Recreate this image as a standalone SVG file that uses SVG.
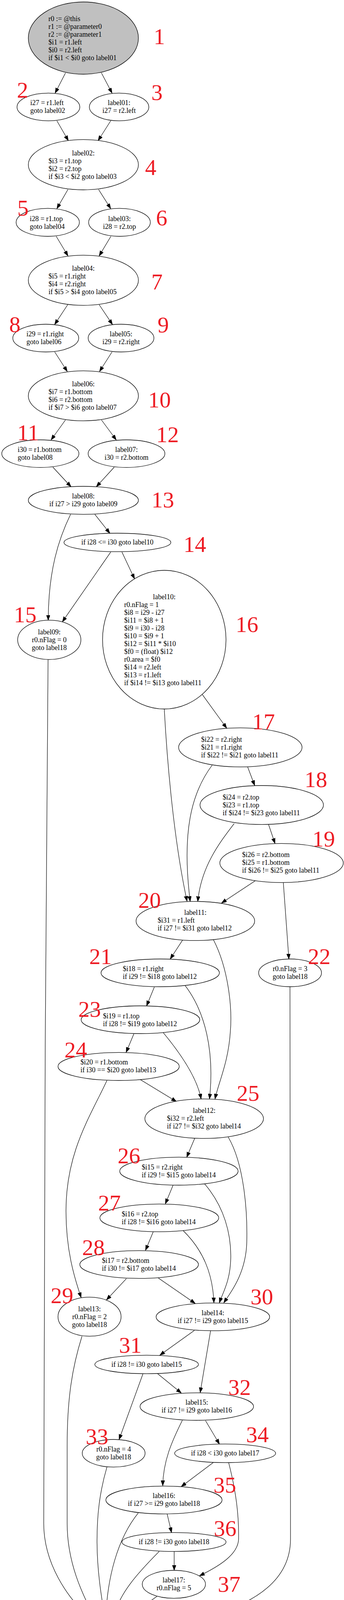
<svg xmlns="http://www.w3.org/2000/svg" width="881" height="4247" viewBox="0 0 881 4247">
<style>
.bg{fill:#ffffff}
.nd{fill:#ffffff;stroke:#000;stroke-width:1.3}
.t{font-family:"Liberation Serif","Times New Roman",serif;font-size:18px;fill:#000}
.c{text-anchor:middle}
.num{font-family:"Liberation Serif","Times New Roman",serif;font-size:58px;fill:#ed1c24;text-anchor:middle}
.e{fill:none;stroke:#000;stroke-width:1.2;marker-end:url(#ah)}
</style>
<defs>
<marker id="ah" markerUnits="userSpaceOnUse" markerWidth="14" markerHeight="10" refX="13" refY="4.7" orient="auto">
<path d="M0,0 L13,4.7 L0,9.4 z" fill="#000" stroke="#000" stroke-width="1"/>
</marker>
</defs>
<rect class="bg" x="0" y="0" width="881" height="4247"/>
<g id="edges">
<path class="e" d="M167.7,186.7 L141.2,238.3"/>
<path class="e" d="M259.8,186.7 L286.9,238.3"/>
<path class="e" d="M145.7,309.3 L175,360"/>
<path class="e" d="M283.5,309.3 L251.3,360"/>
<path class="e" d="M174,485 L145.7,534"/>
<path class="e" d="M252.4,485 L283.5,534"/>
<path class="e" d="M144,605 L174,655"/>
<path class="e" d="M284,605 L254,655"/>
<path class="e" d="M173.4,780 L140,830.7"/>
<path class="e" d="M254,780 L288,830.7"/>
<path class="e" d="M140,900.7 L172.2,950.7"/>
<path class="e" d="M287,900.7 L255,950.7"/>
<path class="e" d="M167.7,1075 L131,1126"/>
<path class="e" d="M259.8,1075 L297.6,1126"/>
<path class="e" d="M135.5,1196 L181.8,1246"/>
<path class="e" d="M292.5,1196 L246.8,1246"/>
<path class="e" d="M180.7,1316.7 C150,1380 124,1460 123.5,1587.7"/>
<path class="e" d="M242.8,1316.7 L281.2,1365"/>
<path class="e" d="M283.5,1413.3 L159.8,1591.7"/>
<path class="e" d="M312.3,1413.3 L344.5,1481.7"/>
<path class="e" d="M123.1,1688.3 C116,2300 112,3500 112,3900 C112,4000 170,4090 236,4148"/>
<path class="e" d="M420.7,1815 C428,1950 445,2150 479,2307"/>
<path class="e" d="M518.4,1778.3 L580.5,1864"/>
<path class="e" d="M634.2,1963.3 L652.2,2010.7"/>
<path class="e" d="M543.2,1959 C490,2030 465,2130 487,2307.5"/>
<path class="e" d="M599.7,2108.3 C560,2160 515,2220 506.5,2307.7"/>
<path class="e" d="M687.8,2110.7 L704.2,2159"/>
<path class="e" d="M653.4,2255 L567.5,2311.7"/>
<path class="e" d="M725.6,2259.3 L739.8,2455"/>
<path class="e" d="M467.6,2406.7 L436,2455"/>
<path class="e" d="M546.6,2405.7 C585,2480 595,2580 590,2640 C585,2720 560,2770 550.6,2813.3"/>
<path class="e" d="M395.3,2526.7 L375.5,2575"/>
<path class="e" d="M474.4,2523.3 C525,2590 550,2690 536.5,2813.3"/>
<path class="e" d="M742.6,2526 L744,3940 C744,4090 560,4150 331.3,4172"/>
<path class="e" d="M342.8,2646.7 L323,2694"/>
<path class="e" d="M417.9,2643.3 C465,2700 505,2760 515,2813.3"/>
<path class="e" d="M359.7,2764 L451.8,2820"/>
<path class="e" d="M273.9,2766 C230,2860 169,2950 169,3100 C169,3200 190,3270 207.8,3321.7"/>
<path class="e" d="M498.6,2914.3 L478.3,2962.3"/>
<path class="e" d="M584.5,2911 C625,2980 634,3100 632,3180 C630,3260 590,3310 573.2,3335"/>
<path class="e" d="M443.3,3034 L423.5,3081.7"/>
<path class="e" d="M524,3030.7 C575,3090 592,3160 591,3220 C590,3280 570,3310 561.9,3335"/>
<path class="e" d="M392.5,3153.3 L372.7,3200.7"/>
<path class="e" d="M468.7,3150 C520,3200 545,3260 547.8,3335"/>
<path class="e" d="M323.6,3273.3 L272.8,3327.7"/>
<path class="e" d="M405.5,3271.7 L499.8,3336.7"/>
<path class="e" d="M210,3420.7 C185,3500 172,3580 172,3700 L172,3900 C172,4000 210,4080 244,4145"/>
<path class="e" d="M498,3405.7 L409.4,3469.3"/>
<path class="e" d="M539.3,3406.7 L512.7,3565"/>
<path class="e" d="M403.8,3516.7 L464.2,3566"/>
<path class="e" d="M366,3517.3 L305,3685"/>
<path class="e" d="M467,3636 C440,3690 418,3740 416.8,3803.3"/>
<path class="e" d="M526.3,3636.7 L561.9,3696.7"/>
<path class="e" d="M273.9,3755.7 C255,3820 248,3880 248.5,3950 C249,4030 262,4100 268.2,4139.5"/>
<path class="e" d="M546,3744.3 L464.2,3805.7"/>
<path class="e" d="M585.6,3744.3 C605,3820 612,3880 611,3940 C610,3980 560,4010 511,4034"/>
<path class="e" d="M428,3875.7 L439.3,3923.3"/>
<path class="e" d="M354,3873.3 C300,3940 275,4040 271,4139.5"/>
<path class="e" d="M446.1,3971.7 L446.1,4020"/>
<path class="e" d="M407.7,3971.7 C350,4030 305,4080 290.8,4140.5"/>
<path class="e" d="M402,4086.7 L313.4,4148.5"/>
</g>
<g id="n1"><ellipse class="nd" style="fill:#c0c0c0" cx="213.5" cy="97.5" rx="141" ry="92.5"/>
<text class="t" x="124" y="53.7">r0 := @this</text><text class="t" x="124" y="73.7">r1 := @parameter0</text><text class="t" x="124" y="93.7">r2 := @parameter1</text><text class="t" x="124" y="113.7">$i1 = r1.left</text><text class="t" x="124" y="133.7">$i0 = r2.left</text><text class="t" x="124" y="153.7">if $i1 &lt; $i0 goto label01</text></g>
<g id="n2"><ellipse class="nd" cx="124" cy="273.8" rx="80.5" ry="35.5"/><text class="t" x="77.4" y="269.3">i27 = r1.left</text><text class="t" x="77.4" y="289.3">goto label02</text></g>
<g id="n3"><ellipse class="nd" cx="305" cy="273.8" rx="76.2" ry="35.5"/><text class="t c" x="305" y="269.3">label01:</text><text class="t c" x="305" y="289.3">i27 = r2.left</text></g>
<g id="n4"><ellipse class="nd" cx="213.5" cy="421.7" rx="141" ry="64.3"/><text class="t c" x="213.5" y="397.7">label02:</text><text class="t" x="124.2" y="417.7">$i3 = r1.top</text><text class="t" x="124.2" y="437.7">$i2 = r2.top</text><text class="t" x="124.2" y="457.7">if $i3 &lt; $i2 goto label03</text></g>
<g id="n5"><ellipse class="nd" cx="122.3" cy="569.2" rx="81" ry="35.8"/><text class="t" x="76.2" y="566">i28 = r1.top</text><text class="t" x="76.2" y="586">goto label04</text></g>
<g id="n6"><ellipse class="nd" cx="306" cy="569.2" rx="79" ry="35.8"/><text class="t c" x="306" y="566">label03:</text><text class="t c" x="306" y="586">i28 = r2.top</text></g>
<g id="n7"><ellipse class="nd" cx="213.5" cy="717.5" rx="141" ry="64.2"/><text class="t c" x="213.5" y="693.3">label04:</text><text class="t" x="124.2" y="713.3">$i5 = r1.right</text><text class="t" x="124.2" y="733.3">$i4 = r2.right</text><text class="t" x="124.2" y="753.3">if $i5 &gt; $i4 goto label05</text></g>
<g id="n8"><ellipse class="nd" cx="117.2" cy="865.5" rx="84.4" ry="35.5"/><text class="t" x="67.8" y="861.3">i29 = r1.right</text><text class="t" x="67.8" y="881.3">goto label06</text></g>
<g id="n9"><ellipse class="nd" cx="310" cy="865.5" rx="84.2" ry="35.5"/><text class="t c" x="310" y="861.3">label05:</text><text class="t c" x="310" y="881.3">i29 = r2.right</text></g>
<g id="n10"><ellipse class="nd" cx="213.5" cy="1013.3" rx="141" ry="64"/><text class="t c" x="213.5" y="989.3">label06:</text><text class="t" x="124.2" y="1009.3">$i7 = r1.bottom</text><text class="t" x="124.2" y="1029.3">$i6 = r2.bottom</text><text class="t" x="124.2" y="1049.3">if $i7 &gt; $i6 goto label07</text></g>
<g id="n11"><ellipse class="nd" cx="103.3" cy="1161.3" rx="98.8" ry="35.3"/><text class="t" x="45.2" y="1157">i30 = r1.bottom</text><text class="t" x="45.2" y="1177">goto label08</text></g>
<g id="n12"><ellipse class="nd" cx="324" cy="1161.3" rx="98.3" ry="35.3"/><text class="t c" x="324" y="1157">label07:</text><text class="t c" x="324" y="1177">i30 = r2.bottom</text></g>
<g id="n13"><ellipse class="nd" cx="213.5" cy="1280.8" rx="141" ry="35.8"/><text class="t c" x="213.5" y="1276">label08:</text><text class="t c" x="213.5" y="1296">if i27 &gt; i29 goto label09</text></g>
<g id="n14"><ellipse class="nd" cx="300.7" cy="1388.7" rx="136.9" ry="23.7"/><text class="t c" x="300.7" y="1394.3">if i28 &lt;= i30 goto label10</text></g>
<g id="n15"><ellipse class="nd" cx="126.2" cy="1638" rx="81" ry="50.3"/><text class="t c" x="126.2" y="1623.7">label09:</text><text class="t c" x="126.2" y="1643.7">r0.nFlag = 0</text><text class="t c" x="126.2" y="1663.7">goto label18</text></g>
<g id="n16"><ellipse class="nd" cx="420.7" cy="1637.5" rx="158.1" ry="177.5"/><text class="t c" x="420.7" y="1533.7">label10:</text>
<text class="t" x="318" y="1553.7">r0.nFlag = 1</text><text class="t" x="318" y="1573.7">$i8 = i29 - i27</text><text class="t" x="318" y="1593.7">$i11 = $i8 + 1</text><text class="t" x="318" y="1613.7">$i9 = i30 - i28</text><text class="t" x="318" y="1633.7">$i10 = $i9 + 1</text><text class="t" x="318" y="1653.7">$i12 = $i11 * $i10</text><text class="t" x="318" y="1673.7">$f0 = (float) $i12</text><text class="t" x="318" y="1693.7">r0.area = $f0</text><text class="t" x="318" y="1713.7">$i14 = r2.left</text><text class="t" x="318" y="1733.7">$i13 = r1.left</text><text class="t" x="318" y="1753.7">if $i14 != $i13 goto label11</text></g>
<g id="n17"><ellipse class="nd" cx="615.5" cy="1913.3" rx="158.1" ry="50"/><text class="t" x="515" y="1899.3">$i22 = r2.right</text><text class="t" x="515" y="1919.3">$i21 = r1.right</text><text class="t" x="515" y="1939.3">if $i22 != $i21 goto label11</text></g>
<g id="n18"><ellipse class="nd" cx="670.3" cy="2060.8" rx="158.1" ry="49.8"/><text class="t" x="570.3" y="2046.7">$i24 = r2.top</text><text class="t" x="570.3" y="2066.7">$i23 = r1.top</text><text class="t" x="570.3" y="2086.7">if $i24 != $i23 goto label11</text></g>
<g id="n19"><ellipse class="nd" cx="721.1" cy="2209.3" rx="158.1" ry="50"/><text class="t" x="620" y="2194.3">$i26 = r2.bottom</text><text class="t" x="620" y="2214.3">$i25 = r1.bottom</text><text class="t" x="620" y="2234.3">if $i26 != $i25 goto label11</text></g>
<g id="n20"><ellipse class="nd" cx="500.3" cy="2357.7" rx="151.9" ry="50"/><text class="t c" x="500.3" y="2341.7">label11:</text><text class="t" x="403.8" y="2361.7">$i31 = r1.left</text><text class="t" x="403.8" y="2381.7">if i27 != $i31 goto label12</text></g>
<g id="n21"><ellipse class="nd" cx="410.3" cy="2490.5" rx="151.6" ry="35.5"/><text class="t" x="314.5" y="2486">$i18 = r1.right</text><text class="t" x="314.5" y="2506">if i29 != $i18 goto label12</text></g>
<g id="n22"><ellipse class="nd" cx="742.9" cy="2490.5" rx="80.5" ry="35.5"/><text class="t c" x="742.9" y="2486">r0.nFlag = 3</text><text class="t c" x="742.9" y="2506">goto label18</text></g>
<g id="n23"><ellipse class="nd" cx="359.7" cy="2610.5" rx="151.9" ry="35.5"/><text class="t" x="263.7" y="2606.7">$i19 = r1.top</text><text class="t" x="263.7" y="2626.7">if i28 != $i19 goto label12</text></g>
<g id="n24"><ellipse class="nd" cx="303.8" cy="2730.2" rx="155.3" ry="35.8"/><text class="t" x="206.1" y="2725.3">$i20 = r1.bottom</text><text class="t" x="206.1" y="2745.3">if i30 == $i20 goto label13</text></g>
<g id="n25"><ellipse class="nd" cx="522.9" cy="2863.8" rx="151.9" ry="50.5"/><text class="t c" x="522.9" y="2849.3">label12:</text><text class="t" x="427.5" y="2869.3">$i32 = r2.left</text><text class="t" x="427.5" y="2889.3">if i27 != $i32 goto label14</text></g>
<g id="n26"><ellipse class="nd" cx="458.2" cy="2998.2" rx="151.6" ry="35.8"/><text class="t" x="363.1" y="2993.7">$i15 = r2.right</text><text class="t" x="363.1" y="3013.7">if i29 != $i15 goto label14</text></g>
<g id="n27"><ellipse class="nd" cx="408" cy="3117.8" rx="152.2" ry="35.5"/><text class="t" x="311.7" y="3113.7">$i16 = r2.top</text><text class="t" x="311.7" y="3133.7">if i28 != $i16 goto label14</text></g>
<g id="n28"><ellipse class="nd" cx="356.3" cy="3237.2" rx="151.9" ry="35.5"/><text class="t" x="260.9" y="3232.7">$i17 = r2.bottom</text><text class="t" x="260.9" y="3252.7">if i30 != $i17 goto label14</text></g>
<g id="n29"><ellipse class="nd" cx="229.3" cy="3370.7" rx="80.8" ry="50"/><text class="t c" x="229.3" y="3356.7">label13:</text><text class="t c" x="229.3" y="3376.7">r0.nFlag = 2</text><text class="t c" x="229.3" y="3396.7">goto label18</text></g>
<g id="n30"><ellipse class="nd" cx="545.2" cy="3371.2" rx="145.4" ry="35.5"/><text class="t c" x="545.2" y="3366.7">label14:</text><text class="t c" x="545.2" y="3386.7">if i27 != i29 goto label15</text></g>
<g id="n31"><ellipse class="nd" cx="375.5" cy="3493" rx="132.7" ry="23.7"/><text class="t c" x="375.5" y="3498.5">if i28 != i30 goto label15</text></g>
<g id="n32"><ellipse class="nd" cx="504" cy="3600.8" rx="145.4" ry="35.2"/><text class="t c" x="504" y="3596">label15:</text><text class="t c" x="504" y="3616">if i27 != i29 goto label16</text></g>
<g id="n33"><ellipse class="nd" cx="291.1" cy="3720.3" rx="80.5" ry="35.3"/><text class="t c" x="291.1" y="3716">r0.nFlag = 4</text><text class="t c" x="291.1" y="3736">goto label18</text></g>
<g id="n34"><ellipse class="nd" cx="576.6" cy="3720.5" rx="129.3" ry="23.8"/><text class="t c" x="576.6" y="3726">if i28 &lt; i30 goto label17</text></g>
<g id="n35"><ellipse class="nd" cx="419.9" cy="3840" rx="148.8" ry="35.7"/><text class="t c" x="419.9" y="3835">label16:</text><text class="t c" x="419.9" y="3855">if i27 &gt;= i29 goto label18</text></g>
<g id="n36"><ellipse class="nd" cx="445.6" cy="3947.5" rx="133.3" ry="24.2"/><text class="t c" x="445.6" y="3953.3">if i28 != i30 goto label18</text></g>
<g id="n37"><ellipse class="nd" cx="445.3" cy="4055.8" rx="81" ry="35.8"/><text class="t c" x="445.3" y="4051">label17:</text><text class="t c" x="445.3" y="4071">r0.nFlag = 5</text></g>
<g id="n38"><ellipse class="nd" style="fill:#d3d3d3" cx="275.3" cy="4175.5" rx="56.2" ry="36.2"/><text class="t" x="245.6" y="4171">label18:</text><text class="t" x="245.6" y="4191">return</text></g>
<g id="caption"><text class="t c" x="441.8" y="4232.7">void solve(ex5.RectManager$Rect,ex5.RectManager$Rect)</text></g>
<g id="numbers">
<text class="num" x="408" y="113">1</text>
<text class="num" x="57.7" y="250">2</text>
<text class="num" x="402" y="256">3</text>
<text class="num" x="386" y="448.3">4</text>
<text class="num" x="58.7" y="551.7">5</text>
<text class="num" x="414" y="577">6</text>
<text class="num" x="402" y="740.7">7</text>
<text class="num" x="38" y="850">8</text>
<text class="num" x="418" y="850.7">9</text>
<text class="num" x="408.5" y="1043.3">10</text>
<text class="num" x="72" y="1127.3">11</text>
<text class="num" x="429" y="1131.7">12</text>
<text class="num" x="417" y="1299.3">13</text>
<text class="num" x="499" y="1413">14</text>
<text class="num" x="64.4" y="1593.3">15</text>
<text class="num" x="632.5" y="1618.3">16</text>
<text class="num" x="675" y="1866.7">17</text>
<text class="num" x="809" y="2015">18</text>
<text class="num" x="829" y="2166.7">19</text>
<text class="num" x="383" y="2324.3">20</text>
<text class="num" x="257.5" y="2468.3">21</text>
<text class="num" x="817.5" y="2467.7">22</text>
<text class="num" x="229.5" y="2603.3">23</text>
<text class="num" x="194" y="2707.3">24</text>
<text class="num" x="635.3" y="2818.3">25</text>
<text class="num" x="330.3" y="2978.3">26</text>
<text class="num" x="280.3" y="3099">27</text>
<text class="num" x="239.3" y="3213.3">28</text>
<text class="num" x="158.7" y="3335.7">29</text>
<text class="num" x="670.5" y="3339.3">30</text>
<text class="num" x="333.7" y="3462.7">31</text>
<text class="num" x="613.5" y="3571">32</text>
<text class="num" x="248.5" y="3697.3">33</text>
<text class="num" x="659.3" y="3691.7">34</text>
<text class="num" x="575.7" y="3821">35</text>
<text class="num" x="576.5" y="3931.7">36</text>
<text class="num" x="586.7" y="4075">37</text>
<text class="num" x="110.7" y="4196">38</text>
</g>
</svg>
